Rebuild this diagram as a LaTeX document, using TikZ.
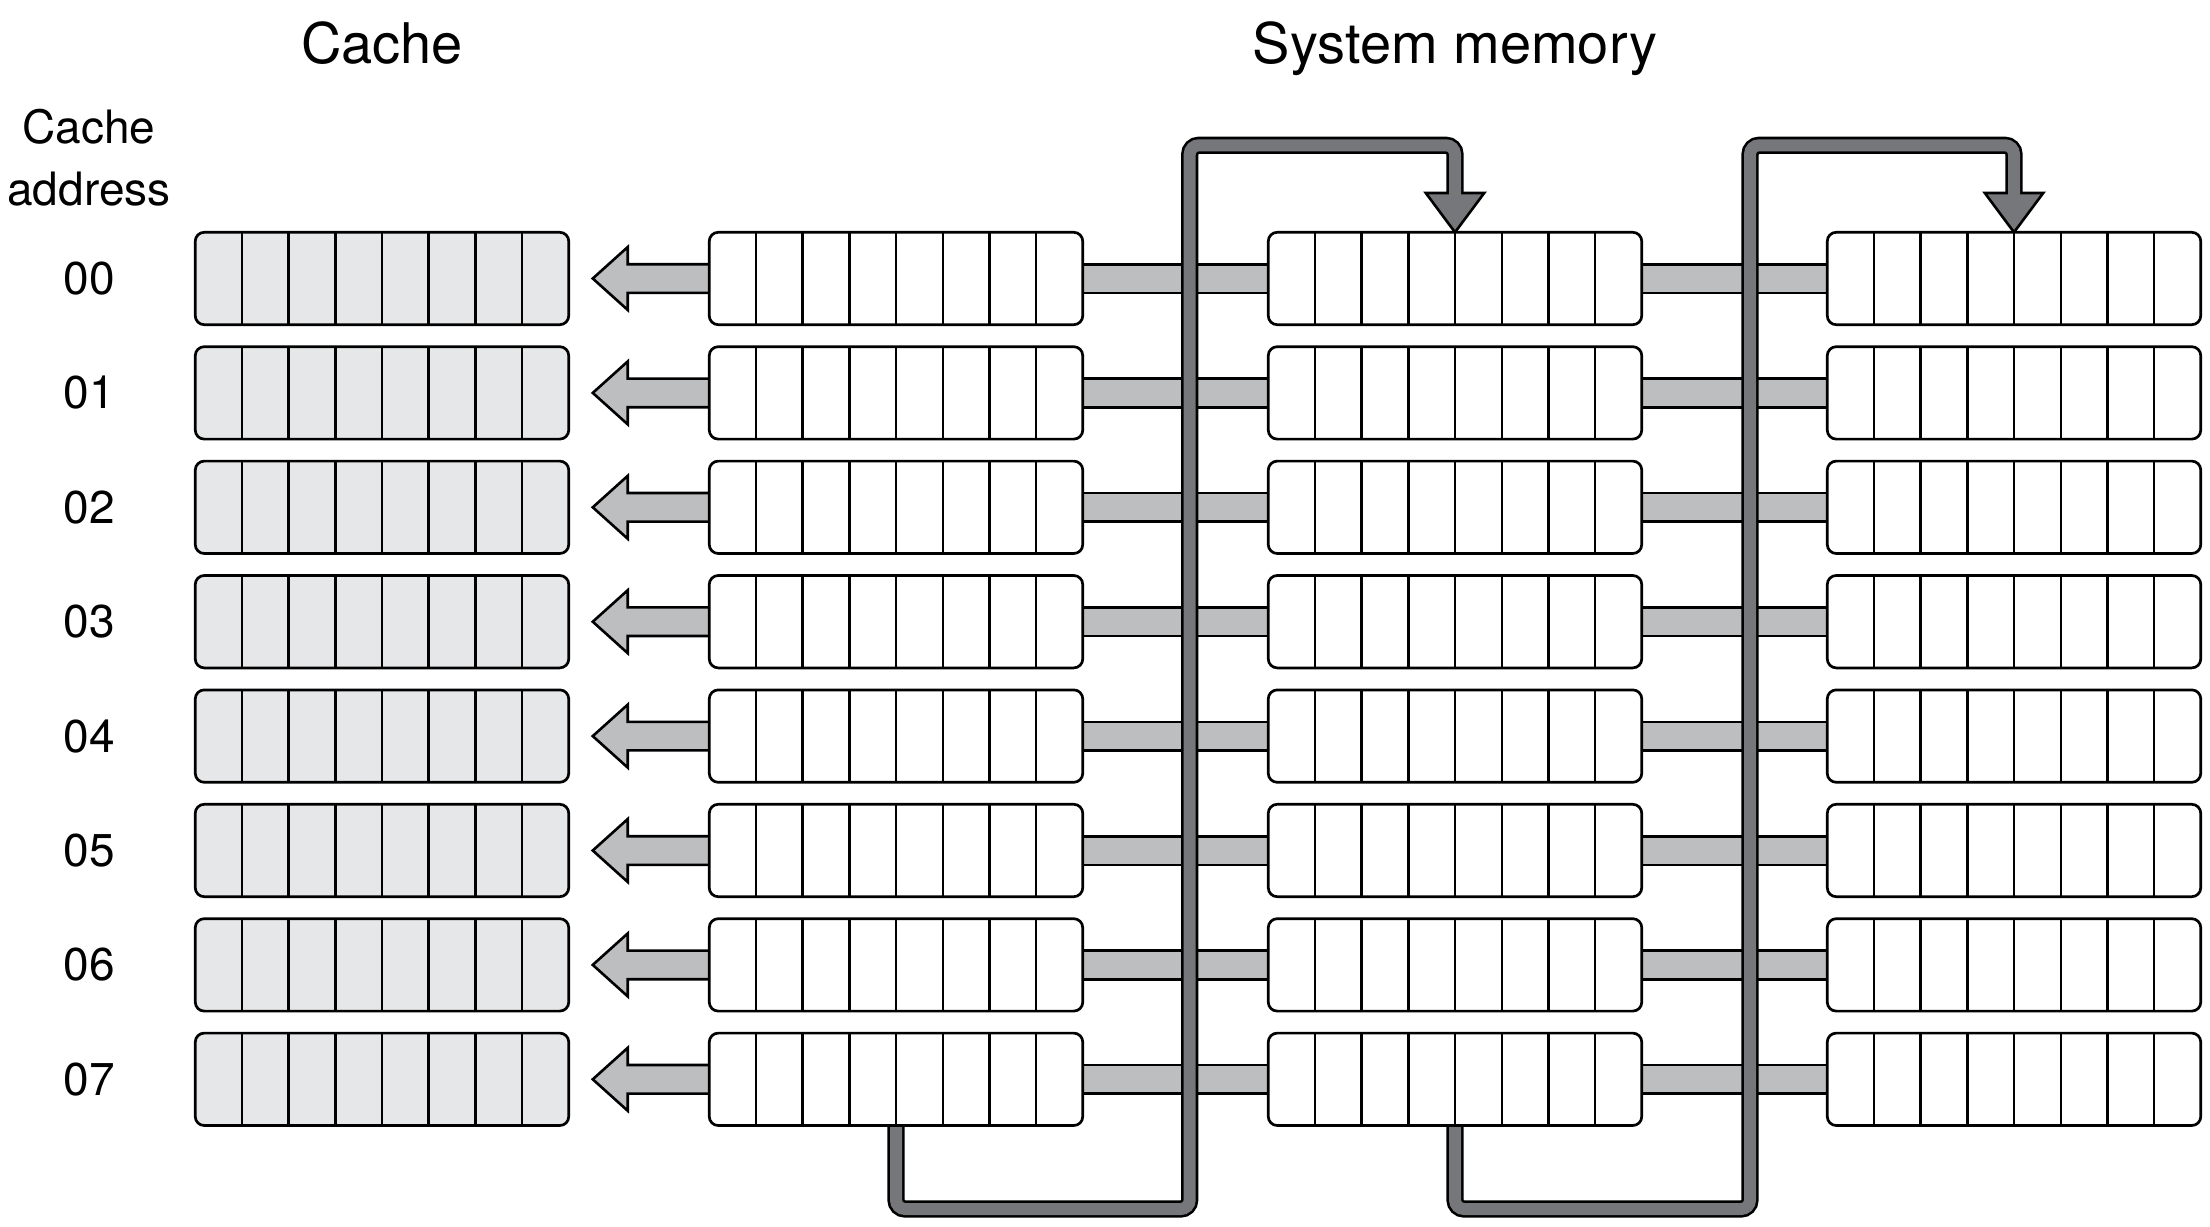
\documentclass[tikz,border=0pt]{standalone}
\usepackage{fontspec}
\setmainfont{TeX Gyre Heros}
\usetikzlibrary{calc}
\pgfdeclarelayer{bg}
\pgfsetlayers{bg,main}
\definecolor{cachefill}{RGB}{230,231,232}
\definecolor{bargray}{RGB}{188,190,192}
\definecolor{loopgray}{RGB}{118,119,123}
\tikzset{
 cellbox/.style={draw=black, line width=1.35pt, rounded corners=4.5pt, minimum width=186.75pt, minimum height=46.2pt, inner sep=0pt, outer sep=0pt, fill=white},
 cachebox/.style={cellbox, fill=cachefill},
 divider/.style={line width=1.2pt},
 barshape/.style={draw=black, fill=bargray, line width=1.3pt, line join=miter},
 loopouter/.style={draw=black, line width=8.6pt, rounded corners=4.5pt},
 loopinner/.style={draw=loopgray, line width=6pt, rounded corners=4.5pt},
 loophead/.style={draw=black, fill=loopgray, line width=1.3pt, line join=miter},
 titletext/.style={font=\fontsize{28}{34}\selectfont, anchor=base, inner sep=0pt},
 addrtext/.style={font=\fontsize{23}{28}\selectfont, inner sep=0pt},
}
\begin{document}
\begin{tikzpicture}[x=0.5pt,y=-0.5pt]
\useasboundingbox (0,0) rectangle (2210,1226);
\node[titletext] (tcache) at (382,63) {Cache};
\node[titletext] (tmem) at (1455,63) {System memory};
\node[addrtext, anchor=base] (addr1) at (89,143) {Cache};
\node[addrtext, anchor=base] (addr2) at (89,205) {address};
\foreach \i in {0,...,7}{
  \pgfmathsetmacro{\yy}{278.5+114.4*\i}
  \node[addrtext] (n\i) at (89,\yy) {0\i};
  \node[cachebox] (c\i) at (382,\yy) {};
  \node[cellbox] (ma\i) at (896,\yy) {};
  \node[cellbox] (mb\i) at (1455,\yy) {};
  \node[cellbox] (mc\i) at (2014,\yy) {};
  \foreach \b in {c,ma,mb,mc}{
    \foreach \k in {1,...,7}{
      \draw[divider] ($(\b\i.north west)!\k/8!(\b\i.north east)$) -- ($(\b\i.south west)!\k/8!(\b\i.south east)$);
    }
  }
}
\begin{pgfonlayer}{bg}
\foreach \i in {0,...,7}{
  \draw[barshape] ($(ma\i.east)+(-10,-14.3)$) rectangle ($(mb\i.west)+(10,14.3)$);
  \draw[barshape] ($(mb\i.east)+(-10,-14.3)$) rectangle ($(mc\i.west)+(10,14.3)$);
  \draw[barshape] ($(ma\i.west)+(10,-14.3)$) -- ($(c\i.east)+(59,-14.3)$) -- ($(c\i.east)+(59,-31.5)$) -- ($(c\i.east)+(24,0)$) -- ($(c\i.east)+(59,31.5)$) -- ($(c\i.east)+(59,14.3)$) -- ($(ma\i.west)+(10,14.3)$) -- cycle;
}
\coordinate (la1) at (1189.7,1209);
\coordinate (la2) at (1189.7,145.3);
\coordinate (lb1) at (1750,1209);
\coordinate (lb2) at (1750,145.3);
\draw[loopouter] (ma7.south) |- (la1) -- (la2) -| ($(mb0.north)+(0,-36)$);
\draw[loophead] ($(mb0.north)+(-29.2,-39.3)$) -- ($(mb0.north)+(29.2,-39.3)$) -- (mb0.north) -- cycle;
\draw[loopinner] (ma7.south) |- (la1) -- (la2) -| ($(mb0.north)+(0,-35)$);
\draw[loopouter] (mb7.south) |- (lb1) -- (lb2) -| ($(mc0.north)+(0,-36)$);
\draw[loophead] ($(mc0.north)+(-29.2,-39.3)$) -- ($(mc0.north)+(29.2,-39.3)$) -- (mc0.north) -- cycle;
\draw[loopinner] (mb7.south) |- (lb1) -- (lb2) -| ($(mc0.north)+(0,-35)$);
\end{pgfonlayer}
\end{tikzpicture}
\end{document}
